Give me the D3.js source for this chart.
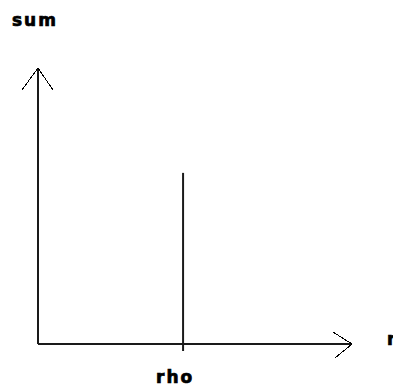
<!DOCTYPE html>
<html>
<head>
<meta charset="utf-8">
<script src="https://cdn.jsdelivr.net/npm/d3@7"></script>
<style>
  body { margin: 0; background: #fff; overflow: hidden; }
  text { font-family: "DejaVu Sans", sans-serif; font-weight: bold; fill: #000; stroke: #000; stroke-width: 0.7; }
</style>
</head>
<body>
<svg id="drawing_region"></svg>
<script>
// axis labels and the single spike at rho
const axis_labels = ["sum", "rho"];
const spike_x = [4.62];
const spike_y = [6.2];
const x_domain = [0, 10];
const y_domain = [0, 10];

const width = 393, height = 387;
const origin = {x: 38, y: 344};
const x_end = 352, y_end = 68;

const svg = d3.select('#drawing_region')
    .attr('width', width)
    .attr('height', height);

const x_scale = d3.scaleLinear().domain(x_domain).range([origin.x, x_end]);
const y_scale = d3.scaleLinear().domain(y_domain).range([origin.y, y_end]);

// axes
const axes = svg.append('g')
    .attr('stroke', '#1a1a1a')
    .attr('stroke-width', 2)
    .attr('fill', 'none');

axes.append('line')
    .attr('x1', x_scale(x_domain[0])).attr('y1', y_scale(y_domain[0]))
    .attr('x2', x_scale(x_domain[1])).attr('y2', y_scale(y_domain[0]));

axes.append('line')
    .attr('x1', x_scale(x_domain[0])).attr('y1', y_scale(y_domain[0]))
    .attr('x2', x_scale(x_domain[0])).attr('y2', y_scale(y_domain[1]));

// arrow heads (thin, jaggy)
const heads = svg.append('g')
    .attr('stroke', '#000')
    .attr('stroke-width', 1)
    .attr('fill', 'none')
    .attr('shape-rendering', 'crispEdges');

const xt = [x_scale(x_domain[1]), y_scale(y_domain[0])];
heads.append('path')
    .attr('d', `M${xt[0] - 19},${xt[1] - 12} L${xt[0]},${xt[1]} L${xt[0] - 17},${xt[1] + 14}`);

const yt = [x_scale(x_domain[0]), y_scale(y_domain[1])];
heads.append('path')
    .attr('d', `M${yt[0] - 16},${yt[1] + 22} L${yt[0]},${yt[1]} L${yt[0] + 15},${yt[1] + 22}`);

// spike
svg.append('g').selectAll('line')
    .data(spike_x.map((d, i) => ({x: d, y: spike_y[i]})))
    .join('line')
    .attr('x1', d => x_scale(d.x)).attr('x2', d => x_scale(d.x))
    .attr('y1', y_scale(0) + 7)
    .attr('y2', d => y_scale(d.y))
    .attr('stroke', '#1a1a1a')
    .attr('stroke-width', 2);

// labels
svg.append('text')
    .attr('x', 12).attr('y', 26)
    .attr('font-size', 17)
    .attr('letter-spacing', 2)
    .text(axis_labels[0]);

svg.append('text')
    .attr('x', x_scale(spike_x[0]) - 27).attr('y', 383)
    .attr('font-size', 17)
    .attr('letter-spacing', 2)
    .text(axis_labels[1]);

svg.append('text')
    .attr('x', 387).attr('y', 345)
    .attr('font-size', 17)
    .attr('letter-spacing', 2)
    .text(axis_labels[1]);
</script>
</body>
</html>
